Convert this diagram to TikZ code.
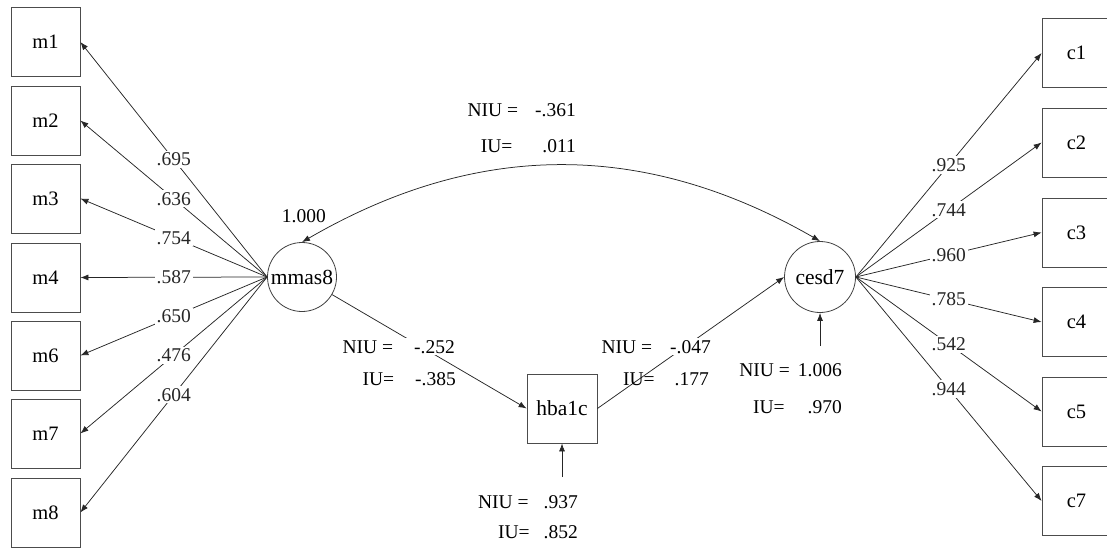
\documentclass[tikz,border=0pt]{standalone}
\usepackage{fontspec}
\setmainfont{Liberation Serif}
\usetikzlibrary{arrows.meta}

\begin{document}
\begin{tikzpicture}[x=1pt,y=-1pt,>={Latex[length=8pt,width=6pt]},
  every node/.style={font=\fontsize{19.5}{22}\selectfont},
  obs/.style={draw=black!70,line width=0.8pt,minimum width=69pt,minimum height=69pt,inner sep=0pt,font=\fontsize{20.5}{23}\selectfont},
  lat/.style={draw=black!75,line width=0.8pt,circle,minimum size=69pt,inner sep=0pt,font=\fontsize{21.5}{24}\selectfont},
  link/.style={->,line width=0.75pt,black!85},
  coef/.style={fill=white,inner sep=2pt},
  eff/.style={anchor=base east,inner sep=2pt}]
\useasboundingbox (0,0) rectangle (1107,548);
% indicators of mmas8
\node[obs] (m1) at (45.5,42) {m1};
\node[obs] (m2) at (45.5,120.5) {m2};
\node[obs] (m3) at (45.5,198.5) {m3};
\node[obs] (m4) at (45.5,277.5) {m4};
\node[obs] (m6) at (45.5,355.5) {m6};
\node[obs] (m7) at (45.5,433.5) {m7};
\node[obs] (m8) at (45.5,512.5) {m8};
% indicators of cesd7
\node[obs] (c1) at (1076.5,53) {c1};
\node[obs] (c2) at (1076.5,142.5) {c2};
\node[obs] (c3) at (1076.5,232.5) {c3};
\node[obs] (c4) at (1076.5,322) {c4};
\node[obs] (c5) at (1076.5,411.5) {c5};
\node[obs] (c7) at (1076.5,501) {c7};
% latent variables and mediator
\node[lat] (mmas8) at (302,277) {mmas8};
\node[lat,minimum size=71pt] (cesd7) at (820,277) {cesd7};
\node[obs,minimum width=70pt,font=\fontsize{21.5}{24}\selectfont] (hba1c) at (562,408.5) {hba1c};
\coordinate (eh) at (562,477);
\coordinate (ec) at (820,346);
%
\draw[link] (mmas8.west) -- node[coef]{.695} (m1.east);
\draw[link] (mmas8.west) -- node[coef]{.636} (m2.east);
\draw[link] (mmas8.west) -- node[coef]{.754} (m3.east);
\draw[link] (mmas8.west) -- node[coef]{.587} (m4.east);
\draw[link] (mmas8.west) -- node[coef]{.650} (m6.east);
\draw[link] (mmas8.west) -- node[coef]{.476} (m7.east);
\draw[link] (mmas8.west) -- node[coef]{.604} (m8.east);
%
\draw[link] (cesd7.east) -- node[coef]{.925} (c1.west);
\draw[link] (cesd7.east) -- node[coef]{.744} (c2.west);
\draw[link] (cesd7.east) -- node[coef]{.960} (c3.west);
\draw[link] (cesd7.east) -- node[coef]{.785} (c4.west);
\draw[link] (cesd7.east) -- node[coef]{.542} (c5.west);
\draw[link] (cesd7.east) -- node[coef]{.944} (c7.west);
%
\draw[link,<->] (mmas8.north) to[bend left=30] (cesd7.north);
\draw[link] (mmas8) -- (hba1c.west);
\draw[link] (hba1c.east) -- (cesd7.west);
\draw[link] (eh) -- (hba1c.south);
\draw[link] (ec) -- (cesd7.south);
% effect labels
\node[eff] (v1) at (328,222) {1.000};
\node[eff] (n1) at (578,117) {NIU =\hspace{17pt}-.361};
\node[eff] (i1) at (578,153) {IU=\hspace{30pt}.011};
\node[eff,fill=white] (n2) at (457,353) {NIU =\hspace{21pt}-.252};
\node[eff] (i2) at (458,385) {IU=\hspace{21pt}-.385};
\node[eff,fill=white] (n3) at (713,353) {NIU =\hspace{18pt}-.047};
\node[eff] (i3) at (711,385) {IU=\hspace{20pt}.177};
\node[eff] (n4) at (844,376) {NIU =\hspace{8pt}1.006};
\node[eff] (i4) at (844,413) {IU=\hspace{23pt}.970};
\node[eff] (n5) at (580,508) {NIU =\hspace{15pt}.937};
\node[eff] (i5) at (580,538) {IU=\hspace{14pt}.852};
\end{tikzpicture}
\end{document}
